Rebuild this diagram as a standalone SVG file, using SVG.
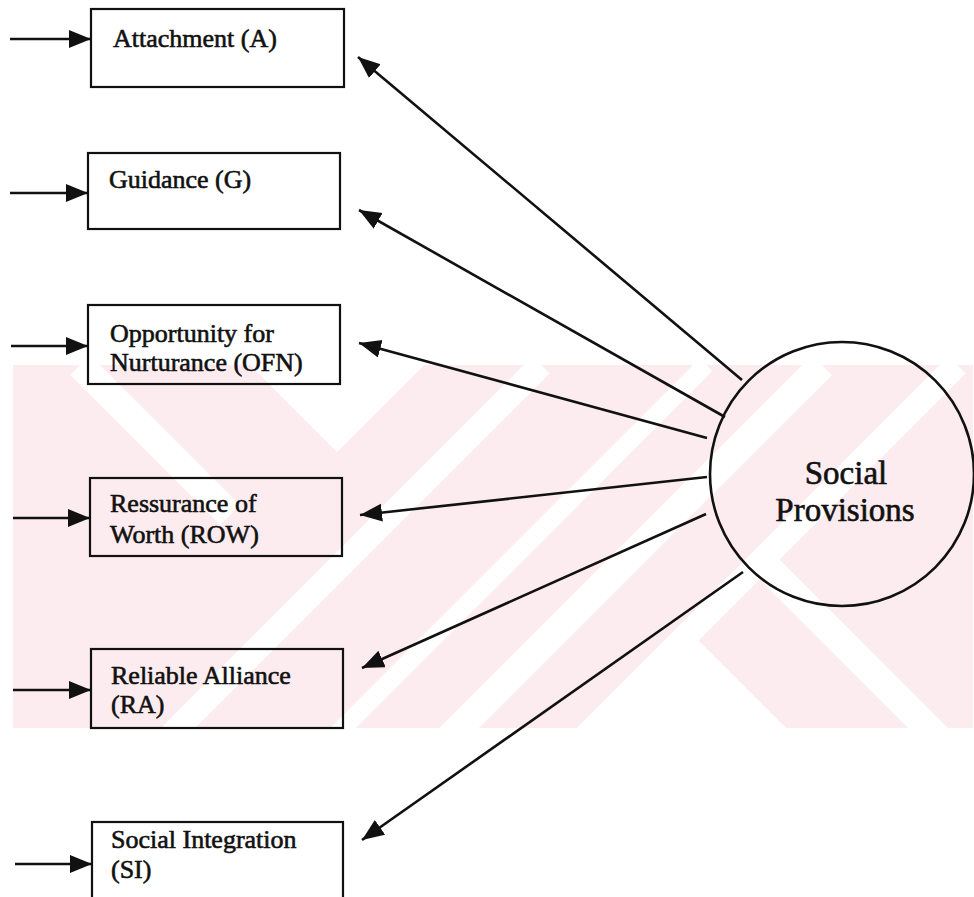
<svg xmlns="http://www.w3.org/2000/svg" width="974" height="897" viewBox="0 0 974 897">
<style>
.box{fill:none;stroke:#111;stroke-width:2.2}
.lbl{font-family:"Liberation Serif","Times New Roman",serif;font-size:26px;fill:#111;stroke:#111;stroke-width:0.6}
.big{font-family:"Liberation Serif","Times New Roman",serif;font-size:33px;fill:#111;stroke:#111;stroke-width:0.6;text-anchor:middle}
.conn{stroke:#111;stroke-width:2.6;fill:none}
.wm{stroke:#fff;fill:none}
</style>
<defs>
<marker id="ah" markerUnits="userSpaceOnUse" markerWidth="24" markerHeight="20" refX="22" refY="9" orient="auto">
<path d="M0,0 L22,9 L0,18 z" fill="#111"/>
</marker>
<clipPath id="band"><rect x="13" y="365" width="960" height="363"/></clipPath>
</defs>
<rect width="974" height="897" fill="#fff"/>
<g id="watermark" clip-path="url(#band)">
<rect x="13" y="365" width="960" height="363" fill="#fdecef"/>
<polygon points="250,365 424,365 337,452" fill="#fff"/>
<line class="wm" x1="541" y1="365" x2="141" y2="765" stroke-width="24"/>
<line class="wm" x1="706" y1="365" x2="306" y2="765" stroke-width="18"/>
<line class="wm" x1="822" y1="365" x2="422" y2="765" stroke-width="28"/>
<line class="wm" x1="957" y1="365" x2="557" y2="765" stroke-width="24"/>
<line class="wm" x1="760" y1="560" x2="940" y2="740" stroke-width="28"/>
<polygon points="690,632 594,728 786,728" fill="#fff"/>
<line class="wm" x1="80" y1="365" x2="230" y2="515" stroke-width="28"/>
</g>
<g id="connectors">
<line class="conn" x1="10" y1="39" x2="91" y2="39" marker-end="url(#ah)"/>
<line class="conn" x1="10" y1="193" x2="88" y2="193" marker-end="url(#ah)"/>
<line class="conn" x1="11" y1="346" x2="88" y2="346" marker-end="url(#ah)"/>
<line class="conn" x1="13" y1="518" x2="90" y2="518" marker-end="url(#ah)"/>
<line class="conn" x1="13" y1="690" x2="91" y2="690" marker-end="url(#ah)"/>
<line class="conn" x1="15" y1="864" x2="92" y2="864" marker-end="url(#ah)"/>
<line class="conn" x1="742" y1="380" x2="358" y2="57" marker-end="url(#ah)"/>
<line class="conn" x1="725" y1="417" x2="359" y2="210" marker-end="url(#ah)"/>
<line class="conn" x1="707" y1="438" x2="359" y2="343" marker-end="url(#ah)"/>
<line class="conn" x1="707" y1="477" x2="360" y2="515" marker-end="url(#ah)"/>
<line class="conn" x1="706" y1="514" x2="362" y2="668" marker-end="url(#ah)"/>
<line class="conn" x1="743" y1="572" x2="362" y2="840" marker-end="url(#ah)"/>
</g>
<g id="node-A">
<rect class="box" x="91" y="9" width="253" height="78"/>
<text class="lbl" x="113" y="47">Attachment (A)</text>
</g>
<g id="node-G">
<rect class="box" x="88" y="153" width="252" height="76"/>
<text class="lbl" x="109" y="188">Guidance (G)</text>
</g>
<g id="node-OFN">
<rect class="box" x="88" y="305" width="252" height="79"/>
<text class="lbl" x="110" y="342">Opportunity for</text>
<text class="lbl" x="110" y="371">Nurturance (OFN)</text>
</g>
<g id="node-ROW">
<rect class="box" x="90" y="478" width="252" height="78"/>
<text class="lbl" x="110" y="512">Ressurance of</text>
<text class="lbl" x="110" y="543">Worth (ROW)</text>
</g>
<g id="node-RA">
<rect class="box" x="91" y="649" width="252" height="79"/>
<text class="lbl" x="111" y="684">Reliable Alliance</text>
<text class="lbl" x="111" y="713">(RA)</text>
</g>
<g id="node-SI">
<rect class="box" x="92" y="822" width="251" height="80"/>
<text class="lbl" x="111" y="848">Social Integration</text>
<text class="lbl" x="111" y="878">(SI)</text>
</g>
<g id="node-SP">
<ellipse cx="842" cy="474" rx="132" ry="132" fill="none" stroke="#111" stroke-width="2.6"/>
<text class="big" x="846" y="484">Social</text>
<text class="big" x="845" y="521">Provisions</text>
</g>
</svg>
